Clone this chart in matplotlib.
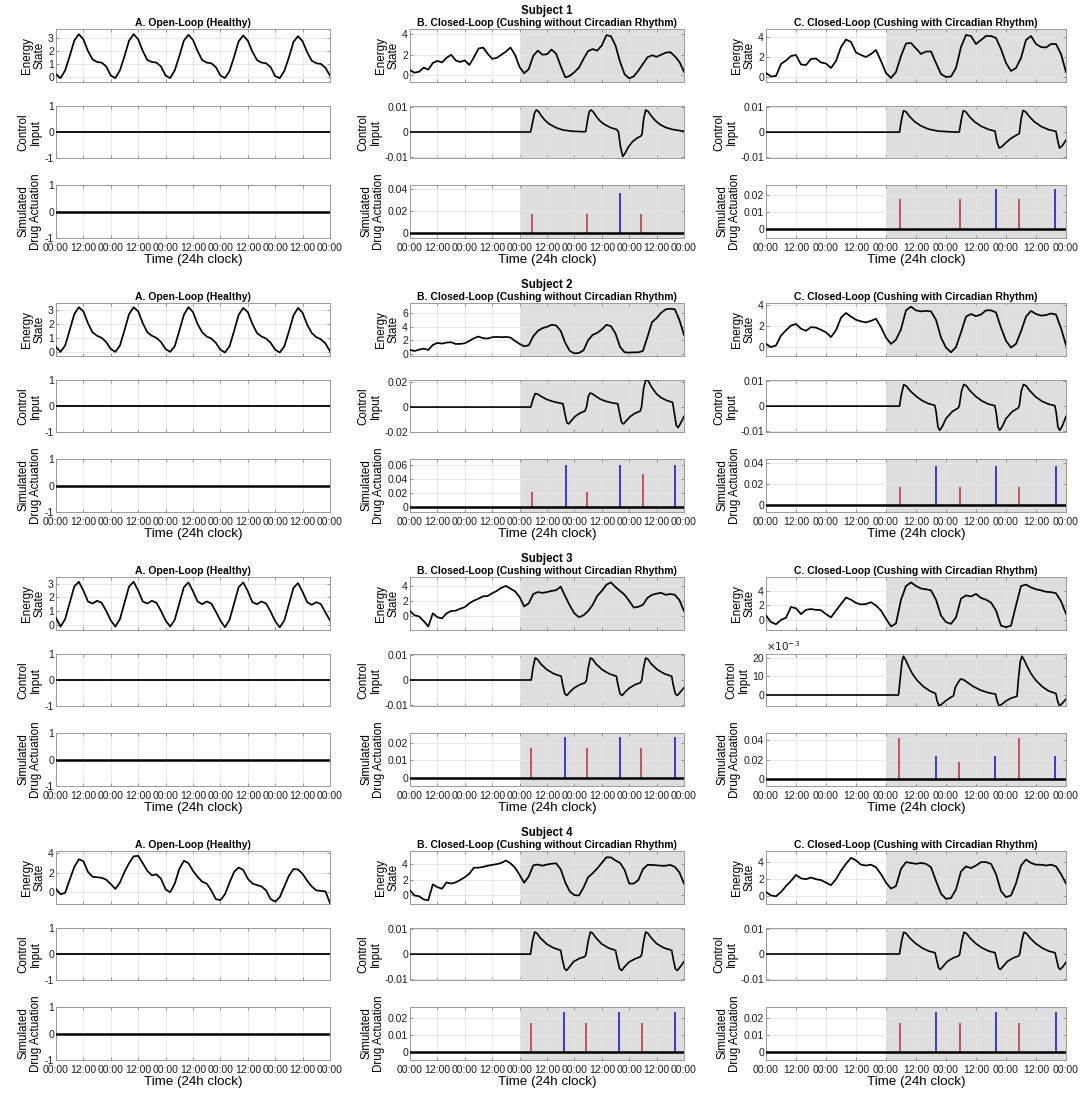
import numpy as np
import matplotlib
matplotlib.use('Agg')
import matplotlib.pyplot as plt

plt.rcParams['font.family'] = ['Liberation Sans', 'DejaVu Sans']

# ---------------- data ----------------
hours = np.arange(0, 121, 2)          # sampling grid of the energy traces (h)
x_ticks = np.arange(0, 121, 12)
x_tick_labels = ['00:00', '12:00'] * 5 + ['00:00']
shade_start, shade_end = 48, 120

# Energy state, sampled every 2 h
energy_s1_a = [0.2, -0.1, 0.5, 1.6, 2.8, 3.3, 2.9, 2.0, 1.35, 1.15, 1.1, 0.8,
               0.1, -0.1, 0.5, 1.6, 2.8, 3.3, 2.9, 2.0, 1.3, 1.15, 1.1, 0.8,
               0.1, -0.1, 0.5, 1.6, 2.8, 3.25, 2.85, 2.0, 1.3, 1.1, 1.05, 0.75,
               0.1, -0.1, 0.45, 1.55, 2.75, 3.2, 2.8, 1.95, 1.3, 1.1, 1.05, 0.75,
               0.05, -0.1, 0.45, 1.5, 2.7, 3.15, 2.75, 1.9, 1.25, 1.05, 1.0, 0.7, 0.1]
energy_s1_b = [0.5, 0.25, 0.35, 0.75, 0.55, 1.2, 1.4, 1.25, 1.7, 2.0, 1.45, 1.3,
               1.45, 1.0, 1.75, 2.6, 2.7, 2.1, 1.6, 1.7, 2.0, 2.3, 2.7, 2.0,
               0.8, 0.2, 0.6, 1.9, 2.4, 2.0, 2.05, 2.5, 2.1, 0.9, -0.2, -0.05,
               0.3, 0.75, 1.6, 2.35, 2.55, 2.4, 2.9, 3.9, 3.8, 2.9, 1.3, 0.1,
               -0.3, -0.1, 0.45, 1.1, 1.75, 1.95, 1.8, 2.0, 2.2, 2.25, 1.85, 1.3, 0.35]
energy_s1_c = [0.4, 0.05, 0.1, 1.3, 1.65, 2.1, 2.2, 1.25, 1.2, 1.8, 1.85, 1.45,
               1.35, 0.9, 1.6, 3.0, 3.75, 3.5, 2.45, 2.2, 2.0, 2.3, 2.7, 1.6,
               0.4, -0.1, 0.5, 2.1, 3.35, 3.4, 2.85, 2.3, 2.55, 2.55, 1.4, 0.3,
               0.0, 0.05, 0.9, 3.0, 4.2, 4.1, 3.3, 3.7, 4.1, 4.1, 3.9, 2.8,
               1.4, 0.6, 0.9, 1.9, 3.7, 4.1, 3.3, 3.0, 2.95, 3.3, 3.3, 2.3, 0.5]
energy_s2_a = [0.35, 0.0, 0.45, 1.55, 2.7, 3.2, 2.9, 2.05, 1.4, 1.15, 1.0, 0.7,
               0.2, 0.0, 0.45, 1.55, 2.7, 3.2, 2.9, 2.05, 1.4, 1.15, 1.0, 0.7,
               0.2, 0.0, 0.4, 1.5, 2.65, 3.2, 2.85, 2.0, 1.4, 1.1, 0.95, 0.65,
               0.15, -0.05, 0.4, 1.5, 2.65, 3.15, 2.85, 2.0, 1.35, 1.1, 0.95, 0.65,
               0.15, -0.05, 0.4, 1.45, 2.6, 3.15, 2.8, 1.95, 1.35, 1.05, 0.9, 0.6, 0.05]
energy_s2_b = [0.55, 0.4, 0.6, 0.75, 0.55, 1.3, 1.6, 1.5, 1.65, 1.7, 1.45, 1.45,
               1.55, 1.9, 2.3, 2.55, 2.3, 2.25, 2.45, 2.5, 2.45, 2.5, 2.4, 1.9,
               1.45, 1.1, 1.25, 2.6, 3.4, 3.8, 4.0, 4.3, 4.2, 3.4, 1.6, 0.4,
               0.05, 0.1, 0.5, 2.0, 2.8, 3.1, 3.6, 4.3, 4.1, 3.0, 1.0, 0.2,
               0.15, 0.2, 0.2, 0.4, 2.5, 4.7, 5.3, 6.1, 6.6, 6.7, 6.6, 5.0, 2.8]
energy_s2_c = [0.3, 0.0, 0.15, 1.1, 1.6, 2.05, 2.2, 1.75, 1.55, 1.9, 1.85, 1.65,
               1.4, 0.95, 1.6, 2.8, 3.25, 2.9, 2.6, 2.45, 2.35, 2.5, 2.7, 1.9,
               0.9, 0.3, 0.7, 1.7, 3.5, 3.85, 3.5, 3.4, 3.45, 3.4, 2.6, 0.9,
               -0.05, -0.5, 0.0, 1.4, 2.9, 3.15, 2.95, 3.1, 3.5, 3.5, 3.3, 1.85,
               0.6, -0.05, 0.3, 1.5, 2.9, 3.45, 3.15, 3.0, 3.05, 3.2, 3.1, 1.8, 0.2]
energy_s3_a = [0.5, -0.15, 0.4, 1.6, 2.8, 3.15, 2.5, 1.7, 1.55, 1.75, 1.6, 1.0,
               0.3, -0.15, 0.4, 1.6, 2.8, 3.15, 2.5, 1.7, 1.55, 1.75, 1.6, 1.0,
               0.3, -0.15, 0.35, 1.55, 2.75, 3.1, 2.45, 1.7, 1.5, 1.7, 1.55, 0.95,
               0.3, -0.2, 0.35, 1.55, 2.75, 3.1, 2.45, 1.65, 1.5, 1.7, 1.55, 0.95,
               0.25, -0.2, 0.3, 1.5, 2.7, 3.05, 2.4, 1.65, 1.45, 1.65, 1.5, 0.9, 0.3]
energy_s3_b = [0.7, 0.15, 0.0, -0.6, -1.3, 0.4, -0.1, -0.25, 0.4, 0.7, 0.75, 1.0,
               1.2, 1.7, 2.05, 2.3, 2.6, 2.65, 3.0, 3.3, 3.7, 3.95, 3.6, 3.25,
               2.5, 1.3, 1.7, 2.9, 3.15, 3.05, 3.15, 3.3, 3.4, 3.85, 2.6, 1.4,
               0.4, -0.1, 0.15, 0.7, 1.5, 2.65, 3.3, 4.1, 4.4, 3.8, 3.3, 2.8,
               2.0, 1.15, 1.25, 1.5, 2.4, 2.8, 2.95, 3.05, 2.8, 2.9, 2.8, 2.1, 0.7]
energy_s3_c = [0.6, -0.3, -0.6, 0.0, 0.3, 1.8, 1.6, 0.8, 1.4, 1.5, 1.4, 1.35,
               0.8, 0.35, 1.3, 2.2, 3.1, 2.8, 2.35, 2.15, 2.2, 2.45, 2.0, 1.3,
               0.15, -0.9, -0.5, 2.8, 4.7, 5.2, 4.7, 4.35, 4.25, 4.1, 2.8, 0.6,
               -0.3, -0.55, 0.35, 2.95, 3.4, 3.25, 3.6, 3.05, 2.8, 2.4, 1.3, -0.8,
               -1.0, -0.8, 2.0, 4.7, 4.9, 4.5, 4.25, 4.1, 3.9, 3.85, 3.7, 2.6, 0.85]
energy_s4_a = [0.35, -0.2, -0.05, 1.3, 2.6, 3.4, 3.2, 2.1, 1.6, 1.55, 1.5, 1.3,
               0.85, 0.35, 1.0, 2.1, 3.0, 3.7, 3.75, 3.0, 2.2, 1.75, 1.85, 1.4,
               0.3, 0.0, 0.9, 2.4, 3.25, 3.0, 2.2, 1.6, 1.1, 0.9, 0.2, -0.7,
               -0.8, -0.2, 1.0, 2.1, 2.55, 2.3, 1.4, 0.9, 0.75, 0.6, 0.2, -0.7,
               -0.95, -0.5, 0.6, 1.7, 2.4, 2.35, 1.9, 1.2, 0.6, 0.2, 0.15, 0.1, -1.1]
energy_s4_b = [0.65, 0.0, -0.1, -0.5, -0.6, 1.4, 1.05, 0.85, 1.65, 1.5, 1.65, 1.95,
               2.3, 2.75, 3.5, 3.5, 3.6, 3.75, 3.85, 3.95, 4.1, 4.4, 4.05, 3.5,
               2.6, 1.6, 2.4, 3.8, 3.9, 3.75, 3.9, 4.0, 4.05, 3.3, 1.65, 0.5,
               0.05, 0.0, 1.0, 2.3, 2.8, 3.4, 4.1, 4.8, 4.8, 4.4, 4.1, 3.2,
               1.5, 1.5, 1.95, 3.3, 3.85, 3.85, 3.8, 3.75, 3.75, 3.85, 3.6, 2.9, 1.5]
energy_s4_c = [0.5, 0.1, 0.0, 0.5, 1.2, 1.8, 2.5, 2.1, 2.0, 2.2, 2.0, 1.9,
               1.6, 1.3, 2.0, 3.0, 3.8, 4.5, 4.2, 3.7, 3.6, 3.7, 3.4, 2.6,
               1.6, 0.9, 1.2, 3.2, 4.0, 3.9, 3.8, 3.9, 3.8, 3.4, 1.8, 0.3,
               -0.3, -0.2, 0.8, 2.9, 3.5, 3.3, 3.6, 4.0, 4.0, 3.8, 2.6, 0.6,
               -0.1, 0.1, 1.5, 3.6, 4.3, 3.9, 3.7, 3.7, 3.6, 3.7, 3.5, 2.6, 1.5]

# Control input: (time h, value) knots
ctrl_s1_b_t = [0, 52.8, 53.5, 54.5, 55.3, 56.3, 57.5, 59, 61, 64, 67, 71, 76.5, 77.0, 77.8, 78.5, 79.3,
               80.3, 81.6, 83, 85, 88, 90.5, 91.3, 92.2, 93.2, 94.2, 95.5, 97.5, 99.5, 101, 101.6,
               102.3, 103.2, 104.3, 105.7, 107.5, 109.5, 112, 115, 120]
ctrl_s1_b_v = [0, 0, 0.003, 0.0075, 0.0088, 0.0082, 0.0065, 0.0048, 0.0032, 0.0017, 0.0008, 0.0003, 0.0001,
               0.0003, 0.005, 0.0082, 0.0088, 0.008, 0.0062, 0.0046, 0.0031, 0.0017, 0.001, 0.0, -0.006,
               -0.0098, -0.0085, -0.0062, -0.0038, -0.0024, -0.0017, -0.001, 0.005, 0.0088, 0.0082,
               0.0064, 0.0045, 0.003, 0.0018, 0.001, 0.0003]
ctrl_s1_c_t = [0, 53.4, 54.2, 55.0, 56.0, 57.5, 59.5, 62, 65, 69, 74, 77.3, 78.1, 78.9, 79.9, 81.4, 83.4,
               86, 89, 91.6, 92.4, 93.3, 94.4, 96, 98, 100.5, 101.3, 102.0, 102.8, 103.8, 105.3, 107.3,
               110, 113, 116.0, 116.6, 117.4, 118.5, 120]
ctrl_s1_c_v = [0, 0, 0.005, 0.0086, 0.0082, 0.0062, 0.0042, 0.0025, 0.0012, 0.0004, 0.0001, 0, 0.005,
               0.0086, 0.0082, 0.0062, 0.0042, 0.0024, 0.0011, 0.0004, -0.004, -0.0064, -0.0058, -0.0042,
               -0.0025, -0.001, -0.0006, 0.005, 0.0087, 0.0082, 0.0063, 0.0042, 0.0023, 0.001, 0.0003,
               -0.003, -0.0064, -0.0055, -0.0032]
ctrl_s2_b_t = [0, 52.9, 53.8, 54.8, 55.8, 57.5, 59.8, 62.5, 65.5, 67.0, 67.8, 68.7, 69.5, 70.7, 72.3, 74.5,
               76.6, 77.3, 78.1, 78.9, 80.0, 81.5, 83.5, 86, 89, 91.0, 91.8, 92.7, 93.5, 94.7, 96.5, 98.5,
               100.8, 101.4, 102.3, 103.3, 104.3, 106, 108, 110, 112.5, 115.0, 115.7, 116.6, 117.4, 118.5, 120]
ctrl_s2_b_v = [0, 0, 0.006, 0.0108, 0.0105, 0.0085, 0.0062, 0.0045, 0.0032, 0.0027, -0.005, -0.0125, -0.0135,
               -0.0108, -0.0075, -0.0048, -0.0032, 0.0, 0.0085, 0.0113, 0.0105, 0.0085, 0.0062, 0.0045, 0.0032,
               0.0027, -0.005, -0.0125, -0.0135, -0.011, -0.0075, -0.005, -0.0033, 0.0, 0.015, 0.0222, 0.021,
               0.0155, 0.0105, 0.0075, 0.0052, 0.0038, -0.004, -0.0145, -0.0165, -0.013, -0.0075]
ctrl_s2_c_t = [0, 53.4, 54.2, 55.1, 56.1, 57.6, 60, 62.5, 65, 67.5, 68.0, 68.8, 69.5, 70.5, 72, 74.5, 76.8,
               77.3, 78.2, 79.1, 80.1, 81.6, 84, 86.5, 89, 91.5, 92.0, 92.8, 93.5, 94.5, 96, 98.5, 100.8,
               101.3, 102.1, 103.0, 104.0, 105.5, 107.8, 110.3, 113, 115.5, 116.0, 116.8, 117.5, 118.5, 120]
ctrl_s2_c_v = [0, 0, 0.005, 0.0086, 0.0081, 0.0062, 0.004, 0.0022, 0.001, 0.0003, -0.002, -0.0085, -0.0097,
               -0.0082, -0.005, -0.0022, -0.0008, 0.0, 0.006, 0.0087, 0.0082, 0.0062, 0.0038, 0.002, 0.0008,
               0.0002, -0.002, -0.0085, -0.0097, -0.0082, -0.005, -0.0022, -0.0008, 0.0, 0.006, 0.0087, 0.0082,
               0.0062, 0.0038, 0.002, 0.0008, 0.0002, -0.002, -0.0085, -0.0097, -0.008, -0.0042]
ctrl_s3_b_t = [0, 53.1, 53.9, 54.8, 55.8, 57.3, 60, 63, 66.2, 66.9, 67.8, 68.7, 70, 72, 74.5, 76.7, 77.3,
               78.1, 79.0, 80.0, 81.5, 84.2, 87.2, 90.4, 91.1, 92.0, 92.9, 94.2, 96.2, 98.7, 100.9, 101.5,
               102.3, 103.2, 104.2, 105.7, 108.4, 111.4, 114.6, 115.3, 116.2, 117.1, 118.4, 120]
ctrl_s3_b_v = [0, 0, 0.005, 0.0088, 0.0083, 0.0064, 0.0041, 0.0025, 0.0015, -0.002, -0.0055, -0.0062,
               -0.0048, -0.0031, -0.0018, -0.0011, 0.0, 0.005, 0.0088, 0.0083, 0.0064, 0.0041, 0.0025,
               0.0015, -0.002, -0.0055, -0.0062, -0.0048, -0.0031, -0.0018, -0.0011, 0.0, 0.005, 0.0088,
               0.0083, 0.0064, 0.0041, 0.0025, 0.0015, -0.002, -0.0055, -0.0062, -0.0048, -0.0031]
ctrl_s3_c_t = [0, 53.0, 53.7, 54.4, 55.0, 55.8, 57, 58.5, 60.5, 63, 65.5, 67.8, 68.4, 69.2, 70.3, 72, 74,
               75.0, 75.7, 76.6, 77.8, 79, 80.5, 83, 86, 89, 91.8, 92.4, 93.2, 94.3, 96, 98, 100.4, 101.0,
               101.7, 102.4, 103.2, 104.4, 106, 108, 110.5, 113, 116.0, 116.6, 117.4, 118.5, 120]
ctrl_s3_c_v = [0, 0, 0.009, 0.018, 0.0208, 0.019, 0.0155, 0.0115, 0.0078, 0.0045, 0.0022, 0.0008, -0.003,
               -0.0059, -0.0049, -0.003, -0.0012, -0.0004, 0.004, 0.0062, 0.0086, 0.0082, 0.0068, 0.0045,
               0.0025, 0.0012, 0.0005, -0.003, -0.0059, -0.005, -0.0032, -0.0017, -0.0007, 0.009, 0.018,
               0.0208, 0.019, 0.0155, 0.0115, 0.0078, 0.0045, 0.0022, 0.0008, -0.003, -0.0059, -0.0045, -0.0022]
ctrl_s4_b_t = [0, 52.8, 53.6, 54.6, 55.6, 57.1, 59.9, 62.8, 66.0, 66.7, 67.7, 68.6, 69.9, 71.6, 74.2, 76.6,
               77.1, 78.0, 79.0, 80.0, 81.5, 83.9, 86.8, 90.0, 90.8, 91.8, 92.7, 94, 96, 98.5, 101.0, 101.5,
               102.3, 103.2, 104.2, 105.7, 108.1, 111.2, 114.6, 115.3, 116.2, 117.1, 118.4, 120]
ctrl_s4_b_v = [0, 0, 0.005, 0.0088, 0.0083, 0.0064, 0.004, 0.0025, 0.0015, -0.002, -0.0058, -0.0065, -0.005,
               -0.003, -0.0017, -0.001, 0.0, 0.005, 0.0088, 0.0083, 0.0064, 0.0041, 0.0025, 0.0015, -0.002,
               -0.0058, -0.0065, -0.005, -0.0031, -0.0019, -0.001, 0.0, 0.005, 0.0088, 0.0083, 0.0064,
               0.0041, 0.0025, 0.0015, -0.002, -0.0058, -0.0065, -0.005, -0.003]
ctrl_s4_c_t = [0, 53.4, 54.2, 55.1, 56.1, 57.6, 60, 62.5, 65, 67.6, 68.2, 69.0, 69.7, 70.8, 72.5, 75, 77.0,
               77.5, 78.3, 79.2, 80.2, 81.7, 84, 86.5, 89, 91.6, 92.2, 93.0, 93.7, 94.8, 96.5, 99, 101.0,
               101.5, 102.3, 103.2, 104.2, 105.7, 108, 110.5, 113, 115.6, 116.2, 117.0, 117.7, 118.8, 120]
ctrl_s4_c_v = [0, 0, 0.005, 0.0087, 0.0082, 0.0063, 0.0041, 0.0024, 0.0012, 0.0005, -0.002, -0.0055, -0.0062,
               -0.005, -0.003, -0.0015, -0.0008, 0.0, 0.005, 0.0087, 0.0082, 0.0063, 0.0041, 0.0024, 0.0012,
               0.0005, -0.002, -0.0055, -0.0062, -0.005, -0.003, -0.0015, -0.0008, 0.0, 0.005, 0.0087,
               0.0082, 0.0063, 0.0041, 0.0024, 0.0012, 0.0005, -0.002, -0.0055, -0.0062, -0.005, -0.0033]

# Simulated drug actuation: time (h), dose, kind ('up' = red, 'down' = blue)
drug_s1_b_t = [53.4, 77.5, 91.8, 101.3]
drug_s1_b_h = [0.0175, 0.0175, 0.037, 0.0175]
drug_s1_b_k = ['up', 'up', 'down', 'up']
drug_s1_c_t = [53.5, 77.4, 91.8, 101.3, 115.7]
drug_s1_c_h = [0.0175, 0.0175, 0.0235, 0.0175, 0.0235]
drug_s1_c_k = ['up', 'up', 'down', 'up', 'down']
drug_s2_b_t = [53.5, 68.2, 77.4, 92.1, 101.9, 116.0]
drug_s2_b_h = [0.022, 0.06, 0.022, 0.06, 0.047, 0.06]
drug_s2_b_k = ['up', 'down', 'up', 'down', 'up', 'down']
drug_s2_c_t = [53.5, 68.1, 77.4, 92.0, 101.3, 116.0]
drug_s2_c_h = [0.017, 0.037, 0.017, 0.037, 0.017, 0.037]
drug_s2_c_k = ['up', 'down', 'up', 'down', 'up', 'down']
drug_s3_b_t = [53.2, 67.7, 77.4, 91.9, 101.3, 116.0]
drug_s3_b_h = [0.017, 0.0235, 0.017, 0.0235, 0.017, 0.0235]
drug_s3_b_k = ['up', 'down', 'up', 'down', 'up', 'down']
drug_s3_c_t = [53.3, 68.0, 77.3, 91.7, 101.3, 115.7]
drug_s3_c_h = [0.042, 0.0235, 0.017, 0.0235, 0.042, 0.0235]
drug_s3_c_k = ['up', 'down', 'up', 'down', 'up', 'down']
drug_s4_b_t = [53.0, 67.6, 77.2, 91.7, 101.5, 116.0]
drug_s4_b_h = [0.017, 0.0235, 0.017, 0.0235, 0.017, 0.0235]
drug_s4_b_k = ['up', 'down', 'up', 'down', 'up', 'down']
drug_s4_c_t = [53.5, 68.0, 77.4, 92.0, 101.3, 116.0]
drug_s4_c_h = [0.017, 0.0235, 0.017, 0.0235, 0.017, 0.0235]
drug_s4_c_k = ['up', 'down', 'up', 'down', 'up', 'down']

# Axis ranges and ticks
energy_ylim = {
    (1, 'A'): (-0.4, 3.7), (1, 'B'): (-0.65, 4.5), (1, 'C'): (-0.5, 4.8),
    (2, 'A'): (-0.3, 3.5), (2, 'B'): (-0.35, 7.55), (2, 'C'): (-0.85, 4.2),
    (3, 'A'): (-0.4, 3.5), (3, 'B'): (-1.75, 5.1), (3, 'C'): (-1.4, 5.95),
    (4, 'A'): (-1.2, 4.25), (4, 'B'): (-1.07, 5.6), (4, 'C'): (-0.9, 5.3),
}
energy_yticks = {
    (1, 'A'): [0, 1, 2, 3], (2, 'A'): [0, 1, 2, 3], (3, 'A'): [0, 1, 2, 3], (4, 'A'): [0, 2, 4],
    (2, 'B'): [0, 2, 4, 6],
}
ctrl_ylim = {
    (1, 'B'): (-0.0104, 0.0104), (1, 'C'): (-0.0104, 0.0105),
    (2, 'B'): (-0.0195, 0.0217), (2, 'C'): (-0.0104, 0.0105),
    (3, 'B'): (-0.0104, 0.0104), (3, 'C'): (-0.0059, 0.022),
    (4, 'B'): (-0.0103, 0.0104), (4, 'C'): (-0.0104, 0.0104),
}
ctrl_yticks = {(2, 'B'): [-0.02, 0, 0.02], (3, 'C'): [0, 0.01, 0.02]}
drug_ylim = {
    (1, 'B'): (-0.005, 0.044), (1, 'C'): (-0.005, 0.0256),
    (2, 'B'): (-0.007, 0.068), (2, 'C'): (-0.0063, 0.044),
    (3, 'B'): (-0.0047, 0.0258), (3, 'C'): (-0.0067, 0.0467),
    (4, 'B'): (-0.0045, 0.0265), (4, 'C'): (-0.0045, 0.0265),
}
drug_yticks = {
    (1, 'B'): [0, 0.02, 0.04], (1, 'C'): [0, 0.01, 0.02],
    (2, 'B'): [0, 0.02, 0.04, 0.06], (2, 'C'): [0, 0.02, 0.04],
    (3, 'B'): [0, 0.01, 0.02], (3, 'C'): [0, 0.02, 0.04],
    (4, 'B'): [0, 0.01, 0.02], (4, 'C'): [0, 0.01, 0.02],
}

titles = {'A': 'A. Open-Loop (Healthy)',
          'B': 'B. Closed-Loop (Cushing without Circadian Rhythm)',
          'C': 'C. Closed-Loop (Cushing with Circadian Rhythm)'}

g = globals()

# ---------------- layout ----------------
W, H = 1084, 1096
fig = plt.figure(figsize=(W / 100, H / 100), dpi=100)
col_x = {'A': (56, 330), 'B': (410, 684), 'C': (766, 1066)}
row_y = {'energy': (29, 82), 'control': (106, 158), 'drug': (185, 238)}
BLOCK = 274

RED = '#c0474a'
BLUE = '#2b2bd6'
SHADE = '#dedede'
GRID = '#e4e4e4'
TICK_FS = 7.6
YLAB_FS = 8.4
XLAB_FS = 9.6
TITLE_FS = 7.5


def add_ax(col, row, k):
    x0, x1 = col_x[col]
    y0, y1 = row_y[row]
    y0 += BLOCK * k
    y1 += BLOCK * k
    return fig.add_axes([x0 / W, 1 - y1 / H, (x1 - x0) / W, (y1 - y0) / H])


def fmt(v):
    return '0' if v == 0 else ('%g' % v)


def style(ax, ylim, yticks, shade, show_x, ylabels=None):
    ax.set_xlim(0, 120)
    ax.set_ylim(*ylim)
    ax.set_xticks(x_ticks)
    ax.set_yticks(yticks)
    ax.set_yticklabels(ylabels if ylabels is not None else [fmt(v) for v in yticks])
    ax.set_xticklabels(x_tick_labels if show_x else [])
    ax.set_axisbelow(True)
    ax.grid(True, color=GRID, lw=0.6)
    if shade:
        ax.axvspan(shade_start, shade_end, color=SHADE, lw=0, zorder=0.1)
    for s in ax.spines.values():
        s.set_color('#9a9a9a')
        s.set_linewidth(0.7)
    ax.tick_params(direction='in', length=2.5, width=0.6, color='#8a8a8a',
                   top=True, right=True, labelsize=TICK_FS, labelcolor='#1e1e1e', pad=1.5)
    ax.tick_params(axis='x', pad=3.5)


for k, subj in enumerate([1, 2, 3, 4]):
    for col in ['A', 'B', 'C']:
        key = (subj, col)
        shade = col != 'A'
        # Energy
        ax = add_ax(col, 'energy', k)
        yt = energy_yticks.get(key, [0, 2, 4])
        style(ax, energy_ylim[key], yt, shade, False)
        e = g['energy_s%d_%s' % (subj, col.lower())]
        ax.plot(hours, e, color='black', lw=1.25, zorder=3)
        ax.set_ylabel('Energy\nState', fontsize=YLAB_FS, labelpad=2, linespacing=1.0)
        ax.set_title(titles[col], fontsize=TITLE_FS, fontweight='bold', pad=2.0)
        if col == 'B':
            x0, x1 = col_x['B']
            fig.text((x0 + x1) / 2 / W, 1 - (11 + BLOCK * k) / H, 'Subject %d' % subj,
                     ha='center', va='center', fontsize=8.3, fontweight='bold')
        # Control
        ax = add_ax(col, 'control', k)
        if col == 'A':
            style(ax, (-1, 1), [-1, 0, 1], False, False)
            ax.plot([0, 120], [0, 0], color='black', lw=1.3, zorder=3)
        else:
            yt = ctrl_yticks.get(key, [-0.01, 0, 0.01])
            labels = ['0', '10', '20'] if key == (3, 'C') else None
            style(ax, ctrl_ylim[key], yt, True, False, labels)
            ct = g['ctrl_s%d_%s_t' % (subj, col.lower())]
            cv = g['ctrl_s%d_%s_v' % (subj, col.lower())]
            ax.plot(ct, cv, color='black', lw=1.2, zorder=3)
            if key == (3, 'C'):
                ax.text(0.0, 1.02, r'$\times 10^{-3}$', transform=ax.transAxes,
                        fontsize=7.5, ha='left', va='bottom', color='#1e1e1e')
        ax.set_ylabel('Control\nInput', fontsize=YLAB_FS, labelpad=2, linespacing=1.0)
        # Drug
        ax = add_ax(col, 'drug', k)
        if col == 'A':
            style(ax, (-1, 1), [-1, 0, 1], False, True)
        else:
            style(ax, drug_ylim[key], drug_yticks[key], True, True)
            dt = g['drug_s%d_%s_t' % (subj, col.lower())]
            dh = g['drug_s%d_%s_h' % (subj, col.lower())]
            dk = g['drug_s%d_%s_k' % (subj, col.lower())]
            for t, h, kind in zip(dt, dh, dk):
                ax.vlines(t, 0, h, color=RED if kind == 'up' else BLUE, lw=1.3, zorder=3)
        ax.plot([0, 120], [0, 0], color='black', lw=1.8, zorder=4)
        ax.set_ylabel('Simulated\nDrug Actuation', fontsize=YLAB_FS, labelpad=2, linespacing=1.0)
        ax.set_xlabel('Time (24h clock)', fontsize=XLAB_FS, labelpad=0.5)

fig.savefig('out.png', dpi=100)
